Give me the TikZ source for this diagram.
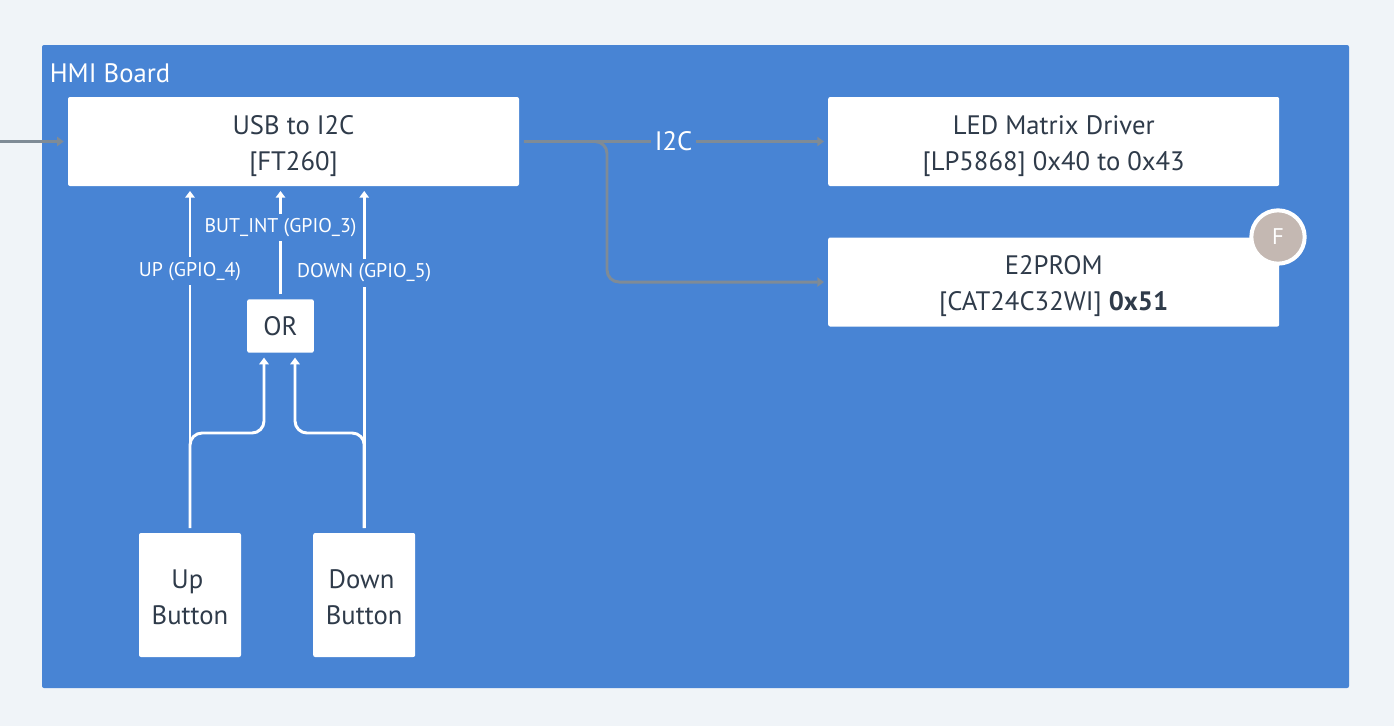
\documentclass[tikz,border=0pt]{standalone}
\usepackage{fontspec}
\setmainfont{PT Sans}
\usetikzlibrary{arrows.meta,positioning}
\definecolor{pagebg}{HTML}{F0F4F8}
\definecolor{boardblue}{HTML}{4884D4}
\definecolor{inktext}{HTML}{2F3B4A}
\definecolor{wiregray}{HTML}{7F8B96}
\definecolor{badgetan}{HTML}{C4B8B2}
\begin{document}
\begin{tikzpicture}[x=.75pt,y=-.75pt,>={Triangle[length=5pt,width=7pt]},
  block/.style={fill=white,rounded corners=1.5pt,align=center,text=inktext,inner sep=0pt,font=\fontsize{20}{27}\selectfont},
  wideblock/.style={block,minimum width=338.25pt,minimum height=66.75pt,execute at begin node={\rule{0pt}{48pt}}},
  btnblock/.style={block,minimum width=76.5pt,minimum height=93pt,execute at begin node={\rule{0pt}{45pt}}},
  sigwire/.style={draw=white,line width=2.2pt,shorten <=3.5pt,shorten >=3.5pt},
  buswire/.style={draw=wiregray,line width=2.2pt,shorten <=3.5pt,shorten >=3pt},
  siglabel/.style={fill=boardblue,text=white,inner sep=0pt,minimum height=20.5pt,font=\fontsize{14.9}{16}\selectfont}]
\useasboundingbox (0,0) rectangle (1394,726);
\fill[pagebg] (0,0) rectangle (1394,726);
\fill[boardblue,rounded corners=1.5pt] (42,45) rectangle (1349,688);
\node[text=white,font=\fontsize{20}{24}\selectfont,inner sep=0pt] (boardname) at (110,73) {HMI Board};
\node[wideblock] (usb) at (293.5,141.5) {USB to I2C\\{}[FT260]};
\node[wideblock,right=231.5pt of usb] (led) {LED Matrix Driver\\{}[LP5868] 0x40 to 0x43};
\node[wideblock,below=38.25pt of led] (eeprom) {E2PROM\\{}[CAT24C32WI] \textbf{0x51}};
\node[block,minimum width=50pt,minimum height=40pt] (orgate) at (280.5,326) {OR};
\node[btnblock] (upbtn) at (190,595) {Up\hspace*{4pt}\\Button};
\node[btnblock,right=53.75pt of upbtn] (downbtn) {Down\hspace*{4pt}\\Button};
\node[circle,fill=badgetan,draw=white,line width=3pt,minimum size=40pt,inner sep=0pt,text=white,font=\fontsize{17}{20}\selectfont] (badge) at (1278,237) {F};
\coordinate (hostin) at (0,141.5);
\coordinate (i2cjoin) at (607,141.5);
\coordinate (upjoin) at (264,433);
\coordinate (downjoin) at (295,433);
% host side
\draw[buswire,->,shorten <=0pt] (hostin) -- (usb.west);
% buttons to the FT260
\draw[sigwire,->] (upbtn.north) -- (upbtn.north |- usb.south) node[siglabel,pos=.755] (uplabel) {UP (GPIO\_4)};
\draw[sigwire,->] (downbtn.north) -- (downbtn.north |- usb.south) node[siglabel,pos=.75] (downlabel) {DOWN (GPIO\_5)};
\draw[sigwire,->] (orgate.north) -- (orgate.north |- usb.south) node[siglabel,pos=.635] (intlabel) {BUT\_INT (GPIO\_3)};
\draw[sigwire,->,rounded corners=9pt] (upbtn.north) |- (upjoin) -- (upjoin |- orgate.south);
\draw[sigwire,->,rounded corners=9pt] (downbtn.north) |- (downjoin) -- (downjoin |- orgate.south);
% i2c bus
\draw[buswire,->] (usb.east) -- (led.west) node[pos=.5,fill=boardblue,text=white,inner sep=3pt,font=\fontsize{20}{24}\selectfont] (i2clabel) {I2C};
\draw[buswire,->,rounded corners=9pt] (usb.east) -- (i2cjoin) |- (eeprom.west);
\end{tikzpicture}
\end{document}
